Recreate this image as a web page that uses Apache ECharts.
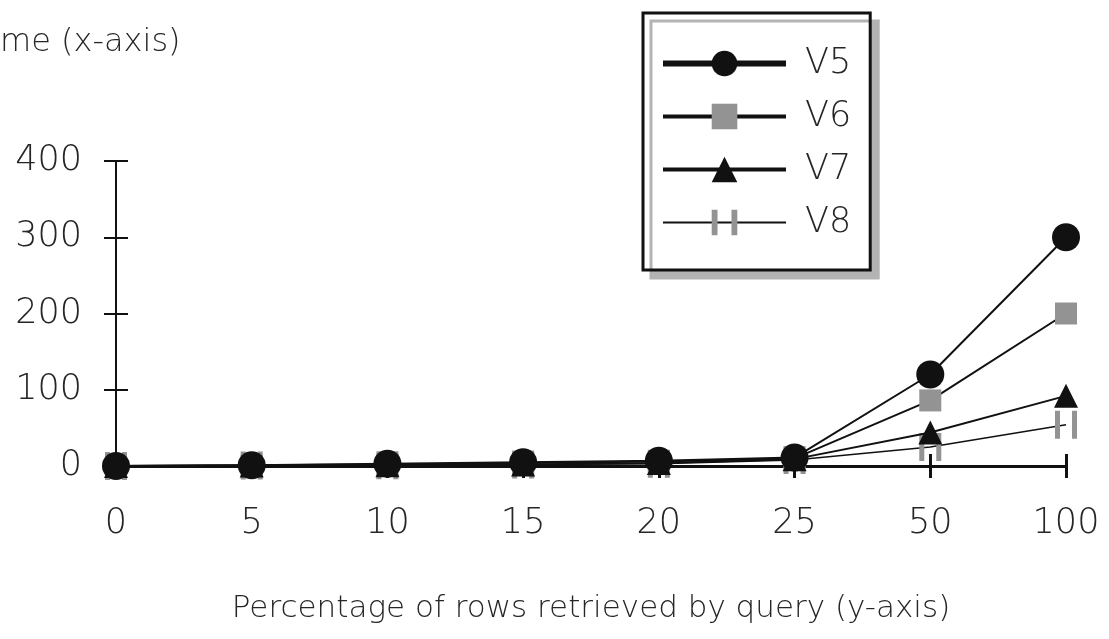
<!DOCTYPE html>
<html>
<head>
<meta charset="utf-8">
<script src="https://cdn.jsdelivr.net/npm/echarts@6/dist/echarts.min.js"></script>
<style>
  html, body { margin: 0; padding: 0; background: #fff; }
  #chart { width: 1109px; height: 639px; }
</style>
</head>
<body>
<div id="chart"></div>
<script>
// Percentage of rows retrieved by query, one category per column
const categories = ['0', '5', '10', '15', '20', '25', '50', '100'];
// Response time per version
const v5 = [0, 1, 3, 5, 7, 11, 120, 300];
const v6 = [0, 1, 2, 4, 6, 10, 86, 200];
const v7 = [0, 0.5, 1, 2, 4, 9, 44, 92];
const v8 = [0, 0.5, 1, 2, 3, 8, 25, 54];
const seriesNames = ['V5', 'V6', 'V7', 'V8'];
const yTicks = [0, 100, 200, 300, 400];

const FONT = "'DejaVu Sans', 'Open Sans', sans-serif";
const WEIGHT = 200;
const TEXT = '#262626';
const GRAY = '#939393';

// two grey bars with a gap, the V8 marker
const barPair = 'path://M0,0H5V30H0ZM17,0H22V30H17Z';

const chart = echarts.init(document.getElementById('chart'), null, { renderer: 'canvas' });

const yMin = yTicks[0];
const yMax = yTicks[yTicks.length - 1];
const yStep = yTicks[1] - yTicks[0];

chart.setOption({
  backgroundColor: '#fff',
  animation: false,
  graphic: [{
    type: 'text',
    left: 0,
    top: 27,
    style: { text: 'me (x-axis)', font: WEIGHT + ' 32px ' + FONT, fill: TEXT }
  }],
  legend: {
    orient: 'vertical',
    left: 643,
    top: 13,
    padding: [33, 19, 30, 17],
    itemWidth: 123,
    itemHeight: 32,
    itemGap: 18,
    backgroundColor: '#fff',
    borderColor: '#111',
    borderWidth: 3,
    borderRadius: 0,
    shadowColor: '#b3b3b3',
    shadowBlur: 0,
    shadowOffsetX: 8,
    shadowOffsetY: 8,
    textStyle: { fontFamily: FONT, fontWeight: WEIGHT, fontSize: 35, color: TEXT, padding: [0, 0, 0, 14] },
    data: [
      { name: 'V5', lineStyle: { width: 6 } },
      { name: 'V6', lineStyle: { width: 4 } },
      { name: 'V7', lineStyle: { width: 4 } },
      { name: 'V8', lineStyle: { width: 2 } }
    ]
  },
  grid: { left: 116, right: 43, top: 161, bottom: 173, containLabel: false },
  xAxis: [{
    type: 'category',
    data: categories,
    boundaryGap: false,
    position: 'bottom',
    axisLine: { show: true, lineStyle: { color: '#111', width: 3 } },
    axisTick: { show: true, inside: false, length: 12, lineStyle: { color: '#111', width: 3 } },
    axisLabel: { margin: 40, fontFamily: FONT, fontWeight: WEIGHT, fontSize: 35, color: TEXT },
    splitLine: { show: false },
    name: 'Percentage of rows retrieved by query (y-axis)',
    nameLocation: 'middle',
    nameGap: 127,
    nameTextStyle: { fontFamily: FONT, fontWeight: WEIGHT, fontSize: 31, color: TEXT }
  }, {
    // inner half of the crossing ticks
    type: 'category',
    data: categories,
    boundaryGap: false,
    position: 'bottom',
    axisLine: { show: false },
    axisTick: { show: true, inside: true, length: 12, lineStyle: { color: '#111', width: 3 } },
    axisLabel: { show: false },
    splitLine: { show: false }
  }],
  yAxis: [{
    type: 'value',
    min: yMin,
    max: yMax,
    interval: yStep,
    position: 'left',
    axisLine: { show: true, lineStyle: { color: '#111', width: 2 } },
    axisTick: { show: true, inside: false, length: 12, lineStyle: { color: '#111', width: 2 } },
    axisLabel: { margin: 34, fontFamily: FONT, fontWeight: WEIGHT, fontSize: 35, color: TEXT },
    splitLine: { show: false }
  }, {
    type: 'value',
    min: yMin,
    max: yMax,
    interval: yStep,
    position: 'left',
    axisLine: { show: false },
    axisTick: { show: true, inside: true, length: 12, lineStyle: { color: '#111', width: 2 } },
    axisLabel: { show: false },
    splitLine: { show: false }
  }],
  series: [
    {
      name: seriesNames[0], type: 'line', data: v5, z: 6,
      symbol: 'circle', symbolSize: 28,
      lineStyle: { color: '#111', width: 2 },
      itemStyle: { color: '#111' }
    },
    {
      name: seriesNames[1], type: 'line', data: v6, z: 4,
      symbol: 'rect', symbolSize: 22,
      lineStyle: { color: '#111', width: 2 },
      itemStyle: { color: GRAY }
    },
    {
      name: seriesNames[2], type: 'line', data: v7, z: 5,
      symbol: 'triangle', symbolSize: [24, 24],
      lineStyle: { color: '#111', width: 2 },
      itemStyle: { color: '#111' }
    },
    {
      name: seriesNames[3], type: 'line', data: v8, z: 3,
      symbol: barPair, symbolSize: [22, 28], symbolKeepAspect: false,
      lineStyle: { color: '#111', width: 1.5 },
      itemStyle: { color: GRAY }
    }
  ]
});
</script>
</body>
</html>
